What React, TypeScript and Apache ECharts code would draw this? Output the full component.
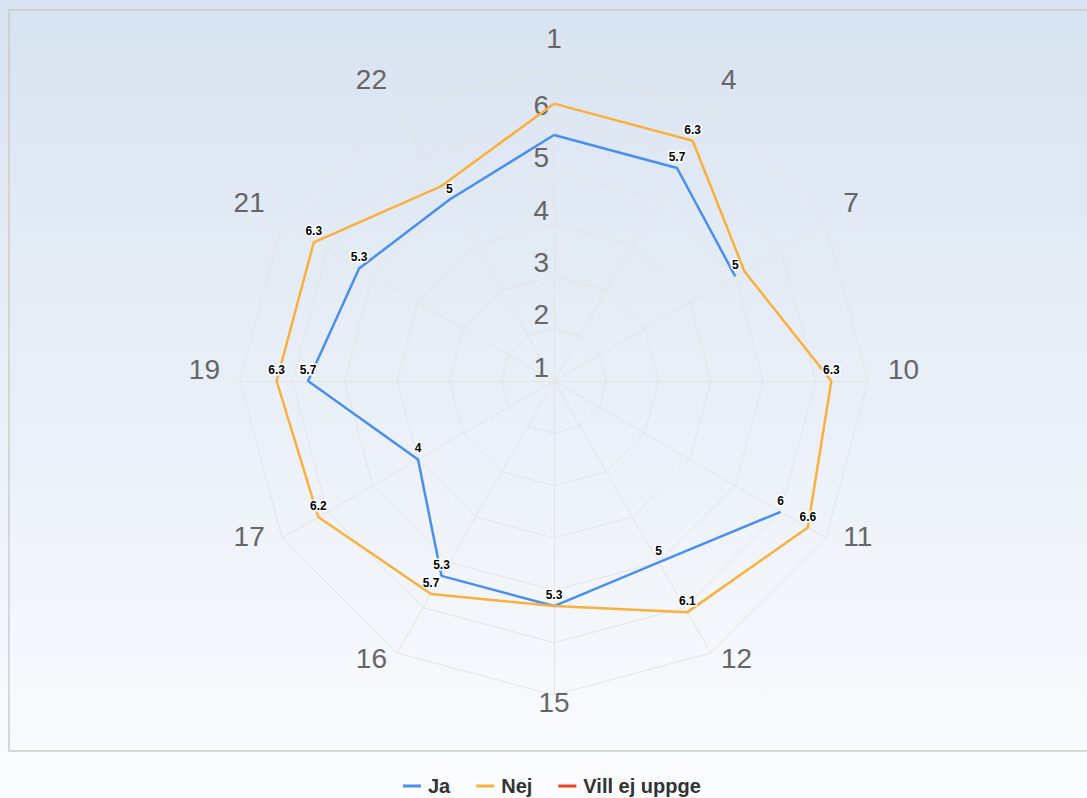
import React, { useEffect, useRef } from 'react';
import * as echarts from 'echarts';

// Indicators in clockwise order starting at the top
const categories = ['1', '4', '7', '10', '11', '12', '15', '16', '17', '19', '21', '22'];
const jaValues: (number | null)[] = [5.7, 5.7, 5.0, null, 6.0, 5.0, 5.3, 5.3, 4.0, 5.7, 5.3, 5.0];
const nejValues: (number | null)[] = [6.3, 6.3, 5.2, 6.3, 6.6, 6.1, 5.3, 5.7, 6.2, 6.3, 6.3, 5.3];
const villValues: (number | null)[] = [];
const jaLabelShown = [false, true, true, false, true, true, true, true, true, true, true, true];
const nejLabelShown = [false, true, false, true, true, true, false, true, true, true, true, false];
const seriesNames = ['Ja', 'Nej', 'Vill ej uppge'];
const seriesColors = ['#4a8fef', '#fbb03b', '#e5441c'];
const radialMin = 1;
const radialMax = 7;
const radialSplits = 6;

const FONT = '"Liberation Sans", Arial, Helvetica, sans-serif';
const CX = 554;
const CY = 381;
const R = 314;

function buildData(values: (number | null)[], shown: boolean[]) {
  const n = categories.length;
  const items: any[] = values.map((v, i) => ({
    value: [v == null ? '-' : v, i],
    label: { show: !!shown[i] && v != null },
  }));
  if (values.length) {
    const v0 = values[0];
    items.push({ value: [v0 == null ? '-' : v0, n], label: { show: false } });
  }
  return items;
}

export default function App() {
  const ref = useRef<HTMLDivElement>(null);
  useEffect(() => {
    if (!ref.current) return;
    const chart = echarts.init(ref.current, undefined, { renderer: 'svg' });
    const n = categories.length;
    // radar draws counter-clockwise: keep first, reverse the rest
    const radarOrder = [0, ...Array.from({ length: n - 1 }, (_, k) => n - 1 - k)];
    const topName = categories[0];
    const bottomName = categories[n / 2];
    const indicator = radarOrder.map((idx) => {
      const base: any = { name: categories[idx], min: radialMin, max: radialMax };
      if (idx === 0) {
        base.axisLabel = {
          show: true,
          color: '#666666',
          fontSize: 28,
          fontFamily: FONT,
          margin: 5,
          verticalAlign: 'bottom',
          showMaxLabel: false,
          showMinLabel: true,
        };
      } else if (idx === n / 2) {
        base.nameGap = -7;
      } else {
        base.nameGap = 20;
      }
      return base;
    });

    const labelCfg = {
      show: false,
      position: 'top',
      distance: 5,
      color: '#000000',
      fontSize: 12,
      fontWeight: 'bold',
      fontFamily: FONT,
      textBorderColor: '#ffffff',
      textBorderWidth: 3,
      formatter: (p: any) => String(p.value[0]),
    };

    const option: any = {
      animation: false,
      backgroundColor: new echarts.graphic.LinearGradient(0, 0, 0, 1, [
        { offset: 0, color: '#d8e3f1' },
        { offset: 1, color: '#fbfcfe' },
      ]),
      graphic: [
        {
          type: 'rect',
          silent: true,
          shape: { x: 9, y: 10, width: 1100, height: 741 },
          style: { fill: 'none', stroke: '#cccccc', lineWidth: 1.5 },
        },
      ],
      legend: {
        data: seriesNames,
        left: 398,
        top: 771,
        icon: 'rect',
        itemWidth: 18,
        itemHeight: 3,
        itemGap: 26,
        textStyle: {
          fontSize: 20,
          fontWeight: 'bold',
          color: '#333333',
          fontFamily: FONT,
          padding: [0, 0, 0, 2],
        },
      },
      radar: {
        center: [CX, CY],
        radius: R,
        startAngle: 90,
        splitNumber: radialSplits,
        shape: 'polygon',
        indicator,
        axisNameGap: 15,
        axisName: {
          color: '#666666',
          fontSize: 28,
          fontFamily: FONT,
          formatter: (name: string) =>
            name === topName || name === bottomName
              ? name
              : '{n|' + name + '}\n{s| }',
          rich: {
            n: { fontSize: 28, color: '#666666', fontFamily: FONT, lineHeight: 32 },
            s: { fontSize: 2, lineHeight: 24 },
          },
        },
        splitArea: { show: false },
        splitLine: { lineStyle: { color: '#e4e4e4', width: 1 } },
        axisLine: { lineStyle: { color: '#e4e4e4', width: 1 } },
        axisTick: { show: false },
        axisLabel: { show: false },
        silent: true,
      },
      polar: { center: [CX, CY], radius: R },
      angleAxis: {
        type: 'value',
        min: 0,
        max: n,
        startAngle: 90,
        clockwise: true,
        show: false,
      },
      radiusAxis: { type: 'value', min: radialMin, max: radialMax, show: false },
      series: [
        {
          name: seriesNames[0],
          type: 'line',
          coordinateSystem: 'polar',
          data: buildData(jaValues, jaLabelShown),
          symbol: 'circle',
          symbolSize: 0.01,
          showSymbol: true,
          showAllSymbol: true,
          connectNulls: false,
          lineStyle: { color: seriesColors[0], width: 2.5 },
          itemStyle: { color: seriesColors[0] },
          label: labelCfg,
          z: 3,
        },
        {
          name: seriesNames[1],
          type: 'line',
          coordinateSystem: 'polar',
          data: buildData(nejValues, nejLabelShown),
          symbol: 'circle',
          symbolSize: 0.01,
          showSymbol: true,
          showAllSymbol: true,
          connectNulls: false,
          lineStyle: { color: seriesColors[1], width: 2.5 },
          itemStyle: { color: seriesColors[1] },
          label: labelCfg,
          z: 4,
        },
        {
          name: seriesNames[2],
          type: 'line',
          coordinateSystem: 'polar',
          data: buildData(villValues, []),
          symbol: 'none',
          lineStyle: { color: seriesColors[2], width: 2.5 },
          itemStyle: { color: seriesColors[2] },
          z: 5,
        },
      ],
    };
    chart.setOption(option);
    return () => chart.dispose();
  }, []);
  return (
    <div
      ref={ref}
      style={{ position: 'absolute', left: 0, top: 0, width: 1087, height: 798 }}
    />
  );
}
